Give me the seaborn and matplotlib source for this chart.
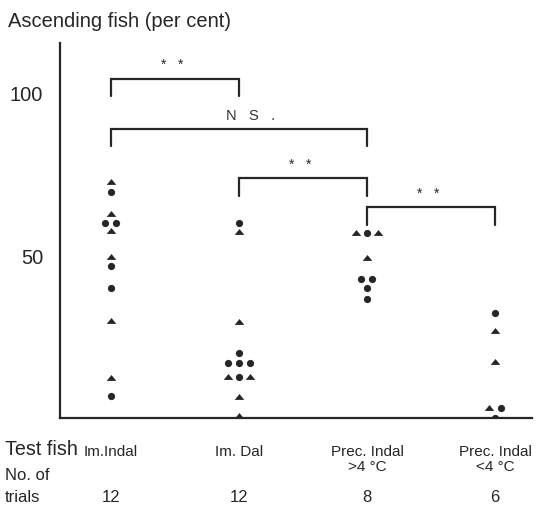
import math
import numpy as np
import pandas as pd
import matplotlib
matplotlib.use("Agg")
import matplotlib.pyplot as plt
import seaborn as sns

# ---------------- data ----------------
groups = ["Im.Indal", "Im. Dal", "Prec. Indal\n>4 \u00b0C", "Prec. Indal\n<4 \u00b0C"]
trials = [12, 12, 8, 6]

g1_circles = [69.5, 59.8, 59.8, 46.8, 39.9, 6.7]
g1_triangles = [72.5, 62.6, 57.5, 49.6, 29.8, 12.3]
g2_circles = [59.8, 19.9, 16.8, 16.8, 16.8, 12.5]
g2_triangles = [57.0, 29.5, 12.5, 12.5, 6.3, 0.5]
g3_circles = [56.7, 42.6, 42.6, 39.8, 36.5]
g3_triangles = [56.7, 56.7, 49.0]
g4_circles = [32.4, 3.0, 0.0]
g4_triangles = [26.8, 17.1, 3.0]

circles = [g1_circles, g2_circles, g3_circles, g4_circles]
triangles = [g1_triangles, g2_triangles, g3_triangles, g4_triangles]

# comparisons: (group a, group b, label)
comparisons = [(0, 1, "*   *"), (0, 2, "N   S   ."), (1, 2, "*   *"), (2, 3, "*   *")]
bracket_tops = [104.2, 88.9, 73.7, 64.8]

# ---------------- build table ----------------
spacing = 0.086
rows = []
for gi in range(len(groups)):
    counts = {}
    for v in circles[gi]:
        counts.setdefault(v, [0, 0])[0] += 1
    for v in triangles[gi]:
        counts.setdefault(v, [0, 0])[1] += 1
    for v, (nc, nt) in counts.items():
        seq = ["triangle"] * math.ceil(nt / 2) + ["circle"] * nc + ["triangle"] * (nt // 2)
        n = len(seq)
        for k, shp in enumerate(seq):
            rows.append({"group": gi, "value": v, "shape": shp,
                         "xpos": gi + (k - (n - 1) / 2) * spacing})
df = pd.DataFrame(rows)

# ---------------- style ----------------
sns.set_style("white")
plt.rcParams["font.family"] = ["Liberation Sans", "DejaVu Sans"]
ink = "#262626"

fig = plt.figure(figsize=(5.37, 5.06), dpi=100)
ax = fig.add_axes([60 / 537, 1 - 419 / 506, (532 - 60) / 537, (419 - 44) / 506])

tri_marker = [(-1, -0.5), (1, -0.5), (0, 0.72)]
sns.scatterplot(data=df[df["shape"] == "circle"], x="xpos", y="value", ax=ax,
                marker="o", s=27, color=ink, linewidth=0, legend=False, zorder=3)
sns.scatterplot(data=df[df["shape"] == "triangle"], x="xpos", y="value", ax=ax,
                marker=tri_marker, s=48, color=ink, linewidth=0, legend=False, zorder=3)

ax.set_xlim(-0.398, 3.289)
ax.set_ylim(0, 115.2)

# brackets
leg = 5.4
for (a, b, lab), top in zip(comparisons, bracket_tops):
    ax.plot([a, a, b, b], [top - leg, top, top, top - leg], color=ink, lw=1.6,
            solid_joinstyle="miter", zorder=2, clip_on=False)
    if lab.startswith("N"):
        ax.text((a + b) / 2 + 0.09, top + 4.2, lab, ha="center", va="center",
                fontsize=10.5, color="#333")
    else:
        ax.text((a + b) / 2 - 0.02, top + 3.2, lab, ha="center", va="baseline",
                fontsize=10, color=ink)

# axes
for s in ["top", "right"]:
    ax.spines[s].set_visible(False)
for s in ["left", "bottom"]:
    ax.spines[s].set_linewidth(1.6)
    ax.spines[s].set_color(ink)

ax.set_yticks([25, 50, 75, 100])
ax.set_yticklabels(["", "50", "", "100"], fontsize=14.5, color=ink)
ax.set_xticks(range(len(groups)))
ax.set_xticklabels(groups, fontsize=11, color=ink, linespacing=1.1, va="top")
ax.tick_params(axis="y", direction="in", length=7, width=1.4, color=ink, pad=12)
ax.tick_params(axis="x", direction="in", length=8, width=1.4, color=ink, pad=18.5)
ax.set_xlabel("")
ax.set_ylabel("")

for i, n in enumerate(trials):
    ax.text(i, -0.221, str(n), transform=ax.get_xaxis_transform(),
            ha="center", va="baseline", fontsize=12, color=ink)

fig.text(8 / 537, 1 - 27 / 506, "Ascending fish (per cent)", fontsize=14.5,
         color=ink, va="baseline", ha="left")
fig.text(5 / 537, 1 - 455 / 506, "Test fish", fontsize=14.2, color=ink,
         va="baseline", ha="left")
fig.text(5 / 537, 1 - 480.5 / 506, "No. of", fontsize=12, color=ink,
         va="baseline", ha="left")
fig.text(5 / 537, 1 - 502 / 506, "trials", fontsize=12, color=ink,
         va="baseline", ha="left")

fig.savefig("out.png", dpi=100, facecolor="white")
